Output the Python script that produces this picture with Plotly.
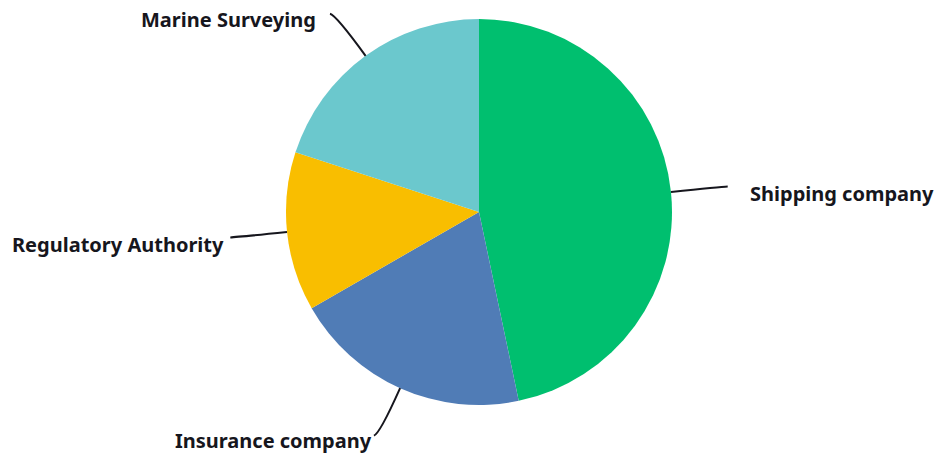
import math
import plotly.graph_objects as go

# Respondent groups and their share of responses (%)
labels = ["Shipping company", "Insurance company", "Regulatory Authority", "Marine Surveying"]
values = [46.7, 20.0, 13.3, 20.0]
colors = ["#00BF6F", "#507CB6", "#F9BE00", "#6BC8CD"]

W, H = 943, 454
CX, CY, R = 479, 212, 193          # pie centre and radius in pixels
FONT = dict(family="'Noto Sans', 'Open Sans', sans-serif", size=20, color="#16161d")

# per-label nudge of the text relative to the leader-line end (pixels)
label_nudge = {
    "Shipping company": (20, 7),
    "Insurance company": (0, 5),
    "Regulatory Authority": (-4, 7),
    "Marine Surveying": (-12, 6),
}

fig = go.Figure()
fig.add_trace(go.Pie(
    labels=labels, values=values, sort=False, direction="clockwise", rotation=0,
    marker=dict(colors=colors, line=dict(width=0)),
    textinfo="none", hoverinfo="label+percent", showlegend=False,
    domain=dict(x=[(CX - R) / W, (CX + R) / W], y=[(H - CY - R) / H, (H - CY + R) / H]),
))

total = sum(values)
start = 0.0
shapes, annotations = [], []
for lab, val in zip(labels, values):
    span = 360.0 * val / total
    mid = math.radians(start + span / 2)
    start += span
    ux, uy = math.sin(mid), -math.cos(mid)
    side = 1 if ux >= 0 else -1
    x0, y0 = CX + R * ux, CY + R * uy
    cx, cy = CX + (R + 50) * ux, CY + (R + 50) * uy
    ex, ey = CX + (R + 52) * ux + side * 5, CY + (R + 52) * uy
    shapes.append(dict(
        type="path", xref="x", yref="y",
        path=f"M {x0:.1f},{y0:.1f} Q {cx:.1f},{cy:.1f} {ex:.1f},{ey:.1f}",
        line=dict(color="#16161d", width=2),
    ))
    dx, dy = label_nudge[lab]
    annotations.append(dict(
        x=ex + dx, y=ey + dy, xref="x", yref="y", text=f"<b>{lab}</b>",
        showarrow=False, xanchor="left" if side > 0 else "right", yanchor="middle",
        font=FONT,
    ))

fig.update_layout(
    width=W, height=H, margin=dict(l=0, r=0, t=0, b=0),
    paper_bgcolor="white", plot_bgcolor="rgba(0,0,0,0)",
    xaxis=dict(range=[0, W], visible=False, fixedrange=True),
    yaxis=dict(range=[H, 0], visible=False, fixedrange=True),
    shapes=shapes, annotations=annotations,
)

fig.write_html("out.html")
